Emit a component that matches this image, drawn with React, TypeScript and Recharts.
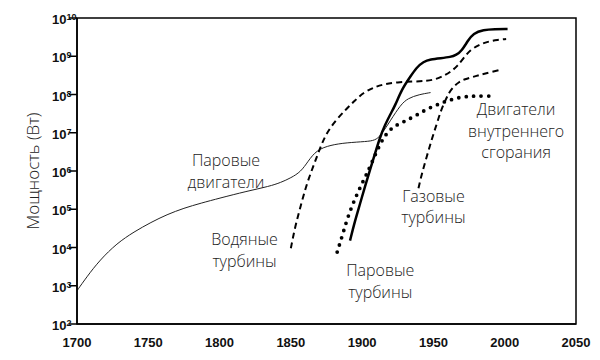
import React from 'react';
import { LineChart, Line, XAxis, YAxis, ReferenceArea, ReferenceDot } from 'recharts';

// Years and power exponents (log10 of watts)
const steamEngineYears = [1700, 1707, 1716, 1728, 1740, 1752, 1763, 1775, 1787, 1800, 1819, 1835, 1843, 1850, 1857, 1862, 1868, 1878, 1889, 1903, 1909, 1913, 1920, 1927, 1932, 1940, 1948];
const steamEngineExp = [2.87, 3.24, 3.67, 4.11, 4.41, 4.66, 4.86, 5.03, 5.16, 5.29, 5.47, 5.6, 5.7, 5.82, 5.98, 6.25, 6.55, 6.68, 6.74, 6.77, 6.8, 6.92, 7.33, 7.73, 7.9, 8.0, 8.05];

const waterTurbineYears = [1850, 1853, 1857, 1861, 1866, 1871, 1875, 1882, 1889, 1895, 1901, 1908, 1915, 1925, 1935, 1945, 1952, 1958, 1963, 1967, 1971, 1976, 1982, 1988, 1995, 2001];
const waterTurbineExp = [3.98, 4.55, 5.1, 5.65, 6.15, 6.65, 6.99, 7.35, 7.62, 7.85, 8.05, 8.18, 8.27, 8.32, 8.34, 8.35, 8.4, 8.5, 8.62, 8.75, 8.95, 9.17, 9.3, 9.38, 9.43, 9.45];

const steamTurbineYears = [1891.5, 1895, 1898.6, 1902, 1905.7, 1909, 1912.7, 1916, 1920, 1923, 1928, 1933.7, 1938, 1943, 1948, 1955, 1962, 1966, 1970, 1974, 1978, 1985, 1993, 2002];
const steamTurbineExp = [4.18, 4.7, 5.15, 5.6, 6.05, 6.45, 6.9, 7.2, 7.5, 7.7, 8.15, 8.46, 8.7, 8.86, 8.92, 8.95, 8.98, 9.03, 9.15, 9.4, 9.6, 9.69, 9.71, 9.71];

const iceYears = [1882.5, 1886, 1889.3, 1893, 1896.5, 1900, 1903.4, 1906, 1910, 1915, 1919, 1922, 1927, 1931, 1936, 1941, 1946, 1952, 1957, 1963, 1969, 1975, 1980, 1987, 1994];
const iceExp = [3.88, 4.3, 4.72, 5.1, 5.4, 5.68, 5.94, 6.15, 6.5, 6.88, 7.05, 7.16, 7.25, 7.32, 7.42, 7.52, 7.63, 7.72, 7.8, 7.87, 7.93, 7.95, 7.96, 7.96, 7.96];

const gasTurbineYears = [1939.5, 1942, 1945.5, 1949, 1952.5, 1955, 1958, 1961, 1964, 1968, 1972, 1978, 1983, 1990, 1998];
const gasTurbineExp = [5.55, 5.95, 6.4, 6.85, 7.25, 7.55, 7.82, 8.05, 8.2, 8.33, 8.4, 8.46, 8.52, 8.58, 8.66];

const xTicks = [1700, 1750, 1800, 1850, 1900, 1950, 2000, 2050];
const yTickExps = [2, 3, 4, 5, 6, 7, 8, 9, 10];

// Annotation labels: [year, exponent of block centre, lines]
const annotationYears = [1804.5, 1817.5, 1912.7, 1950, 2008];
const annotationExps = [6.0, 3.93, 3.12, 5.07, 7.05];
const annotationLines = [
  ['Паровые', 'двигатели'],
  ['Водяные', 'турбины'],
  ['Паровые', 'турбины'],
  ['Газовые', 'турбины'],
  ['Двигатели', 'внутреннего', 'сгорания'],
];

const toData = (years: number[], exps: number[]) =>
  years.map((y, i) => ({ year: y, power: Math.pow(10, exps[i]) }));

const steamEngines = toData(steamEngineYears, steamEngineExp);
const waterTurbines = toData(waterTurbineYears, waterTurbineExp);
const steamTurbines = toData(steamTurbineYears, steamTurbineExp);
const iceEngines = toData(iceYears, iceExp);
const gasTurbines = toData(gasTurbineYears, gasTurbineExp);
const yTicks = yTickExps.map((e) => Math.pow(10, e));

const tickFont = '"Liberation Sans Narrow", "Liberation Sans", sans-serif';
const textFont = '"Open Sans", "Noto Sans", sans-serif';

const YTick = (props: any) => {
  const { x, y, payload } = props;
  const exp = Math.round(Math.log10(payload.value));
  return (
    <text x={x - 17} y={y + 6} fontFamily={tickFont} fontWeight={700} fontSize={13} fill="#111" textAnchor="start">
      10<tspan dy={-4} fontSize={9}>{exp}</tspan>
    </text>
  );
};

const XTick = (props: any) => {
  const { x, y, payload } = props;
  return (
    <text x={x} y={y + 21} fontFamily={tickFont} fontWeight={700} fontSize={13} fill="#111" textAnchor="middle">
      {payload.value}
    </text>
  );
};

const makeLabel = (lines: string[]) => (props: any) => {
  const vb = props.viewBox || {};
  const cx = vb.x + (vb.width || 0) / 2;
  const cy = vb.y + (vb.height || 0) / 2;
  const lh = 21.5;
  const start = cy - ((lines.length - 1) * lh) / 2;
  return (
    <text fontFamily={textFont} fontWeight={300} fontSize={16} fill="#222" textAnchor="middle">
      {lines.map((l, i) => (
        <tspan key={i} x={cx} y={start + i * lh} dominantBaseline="central">
          {l}
        </tspan>
      ))}
    </text>
  );
};

const YTitle = (props: any) => {
  const vb = props.viewBox || {};
  const cx = 24;
  const cy = vb.y + vb.height / 2;
  return (
    <text x={cx} y={cy} transform={`rotate(-90, ${cx}, ${cy})`} textAnchor="middle" dominantBaseline="central"
      fontFamily={textFont} fontWeight={300} fontSize={17} fill="#222">
      Мощность (Вт)
    </text>
  );
};

export default function App() {
  return (
    <div style={{ width: 600, height: 360, background: '#fff' }}>
      <LineChart width={600} height={360} margin={{ top: 10, right: 32, left: 0, bottom: 14 }}>
        <XAxis
          dataKey="year"
          type="number"
          domain={[1700, 2050]}
          ticks={xTicks}
          allowDataOverflow
          height={30}
          axisLine={{ stroke: '#000', strokeWidth: 1.5 }}
          tickLine={false}
          tickSize={0}
          tick={<XTick />}
        />
        <YAxis
          type="number"
          scale="log"
          domain={[100, 1e10]}
          ticks={yTicks}
          allowDataOverflow
          width={69}
          axisLine={{ stroke: '#000', strokeWidth: 1.5 }}
          tickLine={{ stroke: '#000', strokeWidth: 1.5 }}
          tickSize={8}
          tickMargin={0}
          tick={<YTick />}
          label={<YTitle />}
        />
        <ReferenceArea x1={1700} x2={2050} y1={100} y2={1e10} fill="none" stroke="#000" strokeWidth={1.5} ifOverflow="visible" />
        <Line data={steamEngines} dataKey="power" type="basis" stroke="#222" strokeWidth={1} dot={false} activeDot={false} isAnimationActive={false} />
        <Line data={waterTurbines} dataKey="power" type="basis" stroke="#000" strokeWidth={2} strokeDasharray="6 4" dot={false} activeDot={false} isAnimationActive={false} />
        <Line data={steamTurbines} dataKey="power" type="basis" stroke="#000" strokeWidth={2.5} dot={false} activeDot={false} isAnimationActive={false} />
        <Line data={iceEngines} dataKey="power" type="basis" stroke="#000" strokeWidth={3.8} strokeDasharray="0 7.5" strokeLinecap="round" dot={false} activeDot={false} isAnimationActive={false} />
        <Line data={gasTurbines} dataKey="power" type="basis" stroke="#000" strokeWidth={2} strokeDasharray="6 4" dot={false} activeDot={false} isAnimationActive={false} />
        {annotationYears.map((yr, i) => (
          <ReferenceDot key={i} x={yr} y={Math.pow(10, annotationExps[i])} r={0} fill="none" stroke="none" ifOverflow="visible"
            label={makeLabel(annotationLines[i])} />
        ))}
      </LineChart>
    </div>
  );
}
